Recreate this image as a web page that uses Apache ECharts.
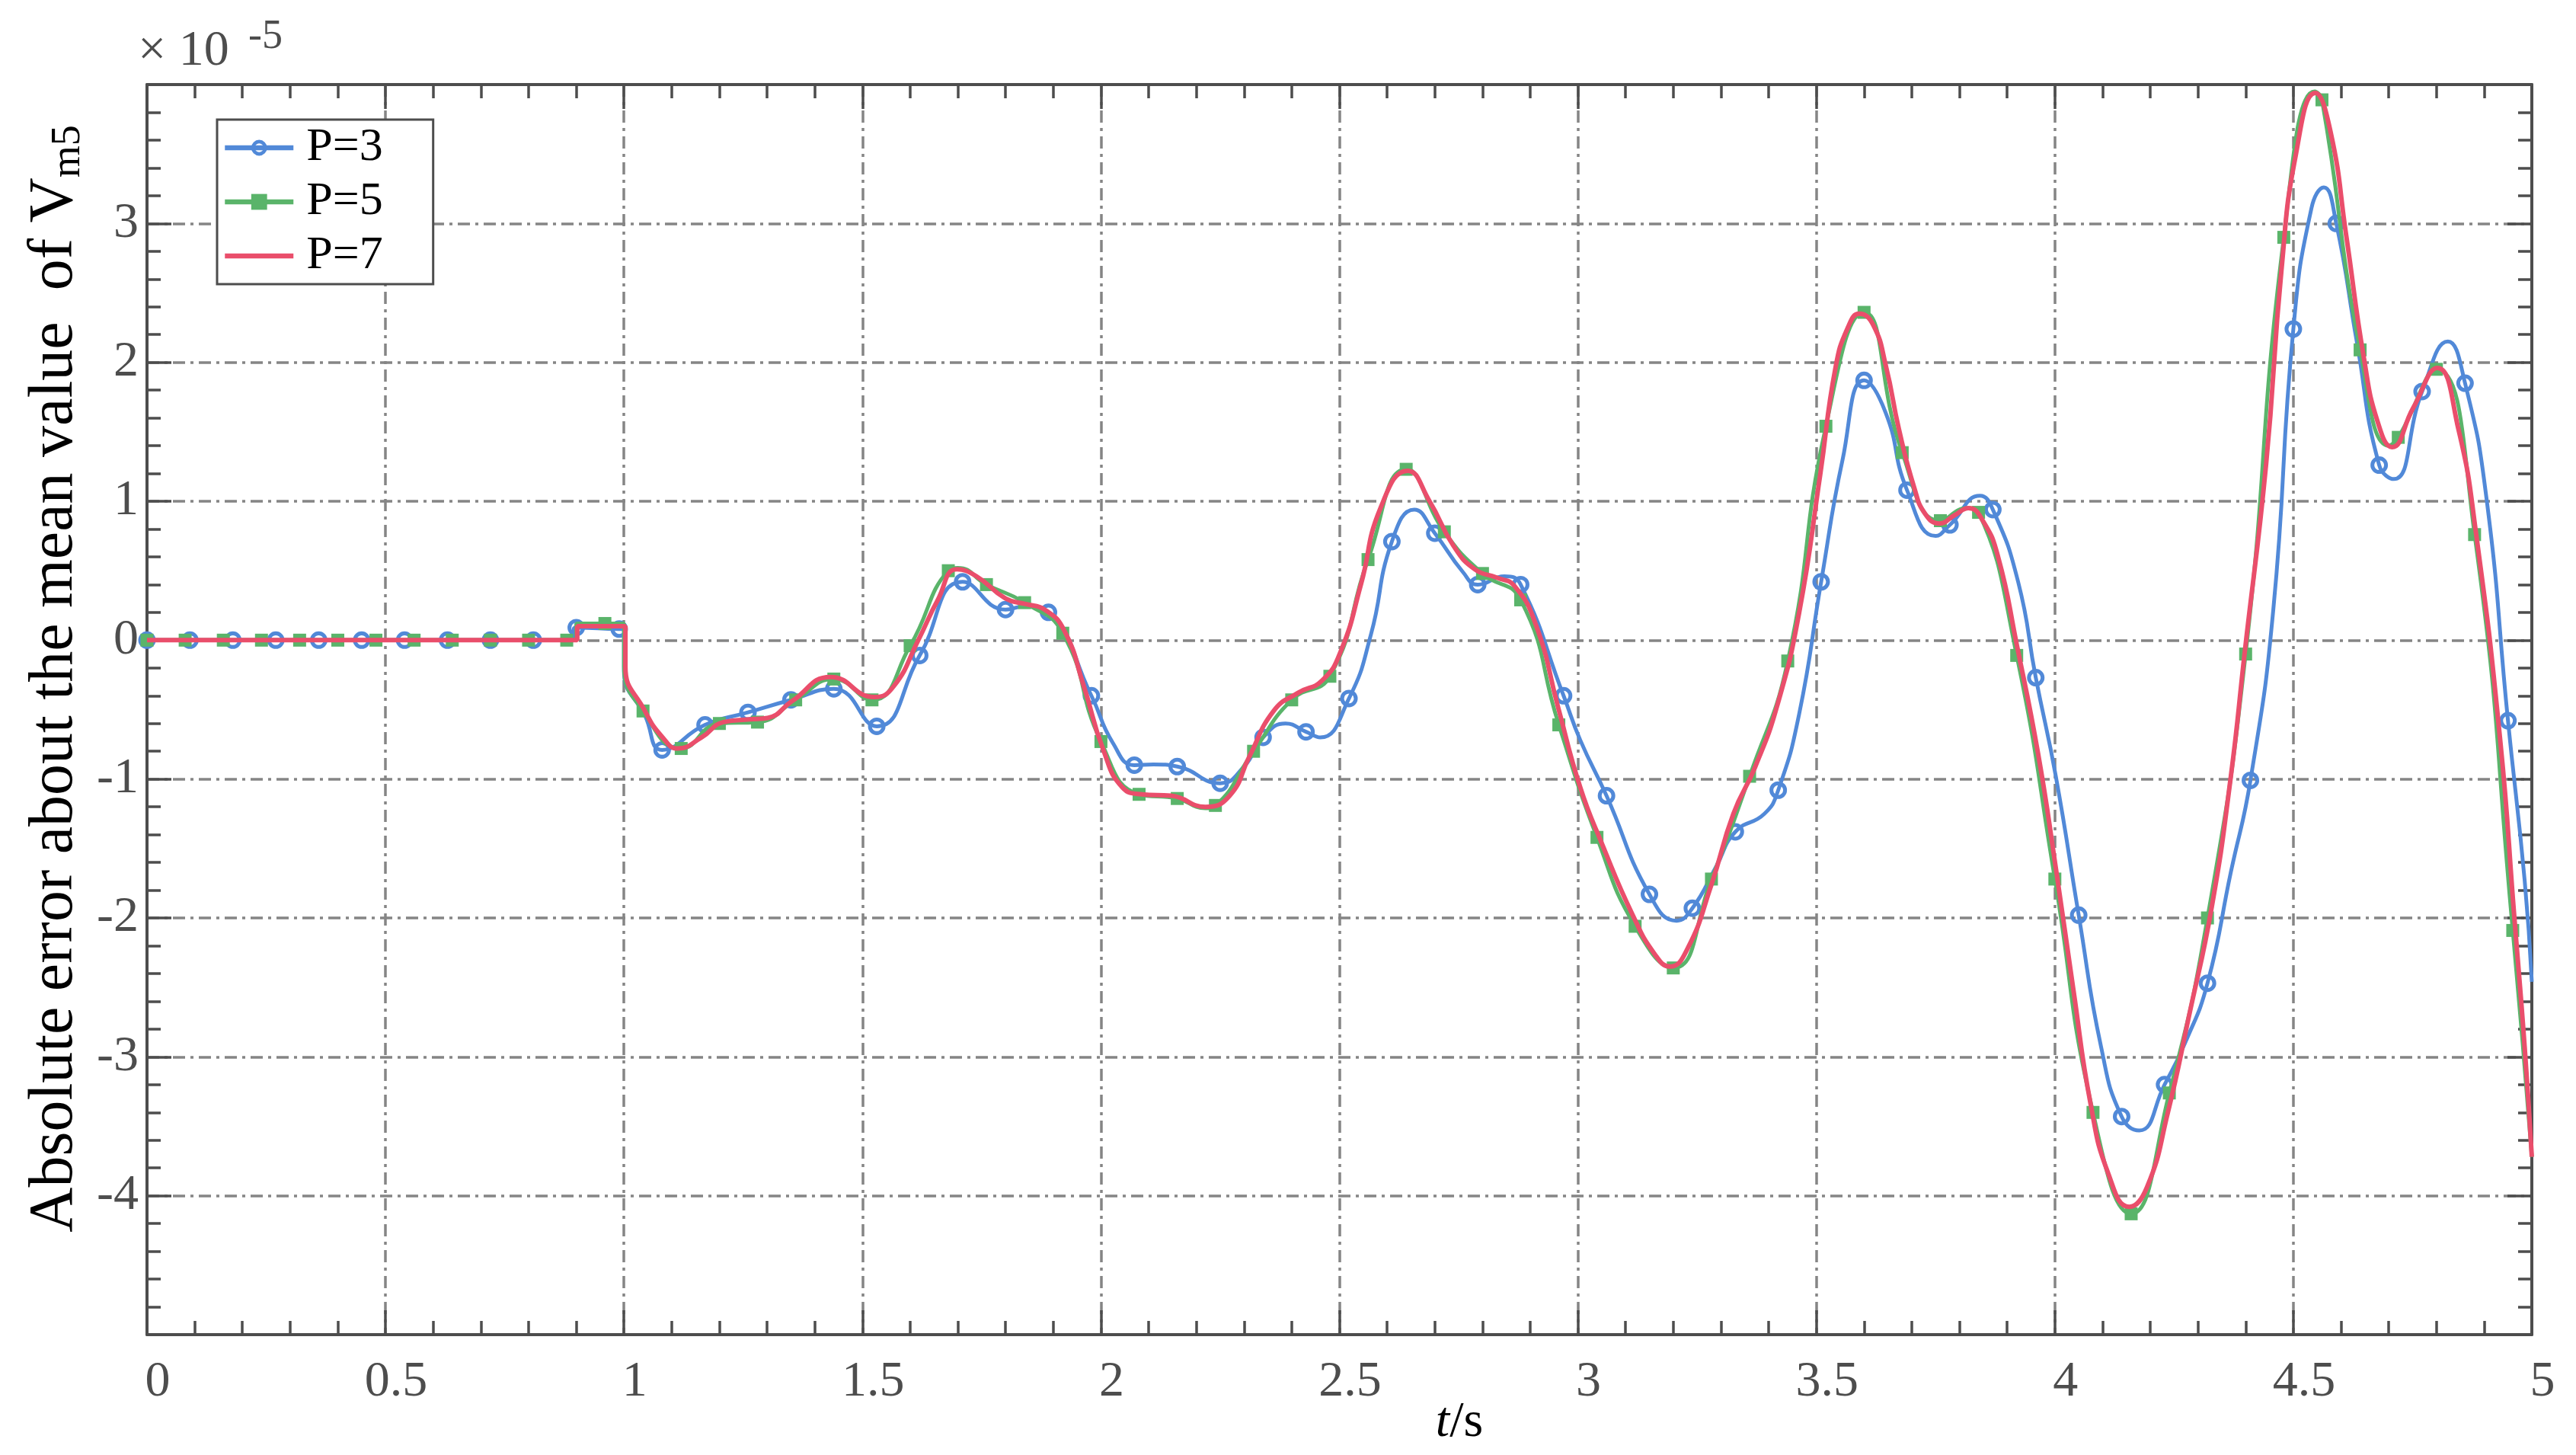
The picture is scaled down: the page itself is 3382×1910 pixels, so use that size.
<!DOCTYPE html>
<html>
<head>
<meta charset="utf-8">
<script src="https://cdn.jsdelivr.net/npm/echarts@6/dist/echarts.min.js"></script>
<style>
html,body{margin:0;padding:0;background:#ffffff;}
#chart{width:3382px;height:1910px;}
</style>
</head>
<body>
<div id="chart"></div>
<script>
// ---------------- DATA (values in units of 1e-5) ----------------
const seriesNames = ['P=3', 'P=5', 'P=7'];

// P=3 : points carrying a circle marker (every 0.09 s)
const p3Marks = [
  [0,0],[0.09,0],[0.18,0],[0.27,0],[0.36,0],[0.45,0],[0.54,0],[0.63,0],[0.72,0],[0.81,0],
  [0.90,0.09],[0.99,0.08],[1.08,-0.79],[1.17,-0.61],[1.26,-0.52],[1.35,-0.43],[1.44,-0.35],
  [1.53,-0.62],[1.62,-0.11],[1.71,0.42],[1.80,0.22],[1.89,0.20],[1.98,-0.40],[2.07,-0.90],
  [2.16,-0.91],[2.25,-1.03],[2.34,-0.70],[2.43,-0.66],[2.52,-0.42],[2.61,0.71],[2.70,0.77],
  [2.79,0.40],[2.88,0.40],[2.97,-0.40],[3.06,-1.12],[3.15,-1.83],[3.24,-1.93],[3.33,-1.38],
  [3.42,-1.08],[3.51,0.42],[3.60,1.87],[3.69,1.08],[3.78,0.83],[3.87,0.94],[3.96,-0.27],
  [4.05,-1.98],[4.14,-3.43],[4.23,-3.20],[4.32,-2.47],[4.41,-1.01],[4.50,2.24],[4.59,3.00],
  [4.68,1.26],[4.77,1.79],[4.86,1.85],[4.95,-0.58]
];
// P=3 : extra curve points (no marker)
const p3Knots = [
  [0.895,0],[0.895,0.09],[1.0,0.08],[1.0,-0.22],[1.045,-0.55],[1.84,0.245],[2.025,-0.74],
  [2.11,-0.895],[2.30,-0.91],[2.387,-0.60],[2.46,-0.70],[2.566,0.04],[2.657,0.94],[2.759,0.49],
  [2.846,0.46],[3.005,-0.72],[3.207,-2.02],[3.29,-1.63],[3.391,-1.25],[3.464,-0.53],[3.555,1.30],
  [3.645,1.64],[3.75,0.75],[3.843,1.04],[3.923,0.42],[4.002,-0.98],[4.097,-2.93],[4.177,-3.53],
  [4.273,-2.90],[4.369,-1.67],[4.458,0.22],[4.538,3.11],[4.564,3.26],[4.633,2.15],[4.711,1.16],
  [4.824,2.15],[4.905,1.02],[4.985,-1.73],[5.0,-2.46]
];

// P=5 : points carrying a square marker (every 0.08 s)
const p5Marks = [
  [0,0],[0.08,0],[0.16,0],[0.24,0],[0.32,0],[0.40,0],[0.48,0],[0.56,0],[0.64,0],[0.72,0],[0.80,0],[0.88,0],
  [0.96,0.12],[1.04,-0.51],[1.12,-0.78],[1.20,-0.60],[1.28,-0.59],[1.36,-0.43],[1.44,-0.28],[1.52,-0.43],
  [1.60,-0.04],[1.68,0.50],[1.76,0.40],[1.84,0.27],[1.92,0.05],[2.00,-0.73],[2.08,-1.11],[2.16,-1.14],
  [2.24,-1.19],[2.32,-0.80],[2.40,-0.43],[2.48,-0.26],[2.56,0.58],[2.64,1.23],[2.72,0.78],[2.80,0.48],
  [2.88,0.29],[2.96,-0.61],[3.04,-1.42],[3.12,-2.06],[3.20,-2.36],[3.28,-1.72],[3.36,-0.98],[3.44,-0.15],
  [3.52,1.54],[3.60,2.36],[3.68,1.35],[3.76,0.86],[3.84,0.92],[3.92,-0.11],[4.00,-1.72],[4.08,-3.40],
  [4.16,-4.13],[4.24,-3.26],[4.32,-2.00],[4.40,-0.10],[4.48,2.90],[4.56,3.89],[4.64,2.09],[4.72,1.46],
  [4.80,1.95],[4.88,0.76],[4.96,-2.09]
];
const p5Knots = [
  [0.90,0],[0.90,0.12],[1.0,0.12],[1.0,-0.19],[1.70,0.52],[2.219,-1.21],[3.815,0.95],
  [4.545,3.95],[4.70,1.40],[5.0,-3.72]
];

// P=7 : curve points (no markers)
const p7Knots = [
  [0,0],[0.902,0],[0.902,0.10],[1.003,0.10],[1.003,-0.19],[1.044,-0.51],[1.081,-0.70],[1.113,-0.78],
  [1.163,-0.70],[1.209,-0.59],[1.264,-0.57],[1.301,-0.56],[1.352,-0.44],[1.433,-0.265],[1.525,-0.41],
  [1.566,-0.33],[1.617,0.0],[1.658,0.29],[1.698,0.51],[1.739,0.46],[1.80,0.30],[1.842,0.26],[1.882,0.22],
  [1.923,0.07],[1.964,-0.33],[2.005,-0.79],[2.045,-1.06],[2.086,-1.11],[2.147,-1.12],[2.219,-1.20],
  [2.27,-1.12],[2.311,-0.84],[2.362,-0.51],[2.413,-0.38],[2.464,-0.29],[2.504,-0.07],[2.545,0.40],
  [2.586,0.95],[2.643,1.22],[2.689,1.0],[2.739,0.68],[2.784,0.51],[2.830,0.45],[2.867,0.39],[2.913,0.10],
  [2.959,-0.49],[3.005,-1.06],[3.051,-1.47],[3.115,-1.98],[3.161,-2.26],[3.193,-2.35],[3.230,-2.22],
  [3.280,-1.76],[3.326,-1.25],[3.372,-0.91],[3.418,-0.47],[3.464,0.20],[3.508,1.19],[3.540,1.96],
  [3.566,2.25],[3.590,2.35],[3.619,2.27],[3.646,1.97],[3.673,1.52],[3.705,1.10],[3.728,0.91],[3.758,0.84],
  [3.790,0.90],[3.819,0.95],[3.849,0.86],[3.881,0.60],[3.920,-0.03],[3.965,-0.82],[4.002,-1.64],
  [4.039,-2.52],[4.075,-3.34],[4.112,-3.84],[4.156,-4.08],[4.193,-3.94],[4.237,-3.40],[4.281,-2.71],
  [4.329,-1.92],[4.369,-0.98],[4.398,-0.09],[4.443,1.27],[4.475,2.66],[4.505,3.49],[4.546,3.94],
  [4.578,3.66],[4.611,2.91],[4.648,2.03],[4.677,1.57],[4.707,1.39],[4.751,1.67],[4.802,1.96],[4.846,1.52],
  [4.883,0.77],[4.934,-0.73],[4.963,-1.98],[4.985,-2.93],[5.0,-3.72]
];

// axis settings (values)
const xMin = 0, xMax = 5, xStep = 0.5;
const yMin = -5, yMax = 4, yStep = 1;

// ---------------- BUILD ----------------
function build(marks, knots) {
  const items = marks.map(p => ({p: p, m: true})).concat(knots.map(p => ({p: p, m: false})));
  items.sort((a, b) => a.p[0] - b.p[0]);
  return items.map(it => it.m ? {value: it.p} : {value: it.p, symbol: 'none'});
}

const FONT = '"Liberation Serif", "Times New Roman", serif';
const AX = '#4d4d4d';
const ringPath = 'path://M0,-10A10,10,0,1,1,0,10A10,10,0,1,1,0,-10ZM0,-5.6A5.6,5.6,0,1,0,0,5.6A5.6,5.6,0,1,0,0,-5.6Z';

function axisBase(extra) {
  return Object.assign({
    type: 'value',
    axisLine: {show: true, onZero: false, lineStyle: {color: AX, width: 4}},
    axisTick: {show: true, inside: true, length: 32, lineStyle: {color: AX, width: 3.5}},
    minorTick: {show: true, splitNumber: 5, length: 18, lineStyle: {color: AX, width: 3.5}},
    splitLine: {show: false},
    axisLabel: {show: false},
    axisPointer: {show: false}
  }, extra);
}

const gridLine = {show: true, lineStyle: {color: '#858585', width: 3.5, type: [16, 7, 4, 7]}};

const chart = echarts.init(document.getElementById('chart'), null, {renderer: 'canvas'});

const option = {
  animation: false,
  backgroundColor: '#ffffff',
  grid: {left: 193, right: 58, top: 111, bottom: 158, containLabel: false},
  xAxis: [
    axisBase({
      min: xMin, max: xMax, interval: xStep, position: 'bottom',
      splitLine: gridLine,
      axisLabel: {show: true, color: AX, fontFamily: FONT, fontSize: 66, margin: 30, padding: [0, 0, 0, 28]}
    }),
    axisBase({min: xMin, max: xMax, interval: xStep, position: 'top'})
  ],
  yAxis: [
    axisBase({
      min: yMin, max: yMax, interval: yStep, position: 'left',
      splitLine: gridLine,
      axisLabel: {show: true, color: AX, fontFamily: FONT, fontSize: 66, margin: 11,
        padding: [10, 0, 0, 0], showMinLabel: false, showMaxLabel: false}
    }),
    axisBase({min: yMin, max: yMax, interval: yStep, position: 'right'})
  ],
  legend: {
    show: true, orient: 'vertical', left: 285, top: 157,
    itemWidth: 90, itemHeight: 26, itemGap: 9,
    padding: [6, 66, 6, 7],
    borderColor: AX, borderWidth: 3, borderRadius: 0, backgroundColor: '#ffffff',
    textStyle: {fontFamily: FONT, fontSize: 62, color: '#000000', padding: [0, 0, 0, 12]},
    lineStyle: {width: 6.5},
    data: [
      {name: seriesNames[0], lineStyle: {width: 6.5}},
      {name: seriesNames[1], lineStyle: {width: 6.5}},
      {name: seriesNames[2], lineStyle: {width: 6.5}, itemStyle: {opacity: 0}}
    ]
  },
  series: [
    {
      type: 'line', name: seriesNames[0], data: build(p3Marks, p3Knots),
      smooth: 0.5, symbol: ringPath, symbolSize: 23, showAllSymbol: true,
      lineStyle: {color: '#5189d8', width: 5}, itemStyle: {color: '#5189d8'}, z: 3
    },
    {
      type: 'line', name: seriesNames[1], data: build(p5Marks, p5Knots),
      smooth: 0.5, symbol: 'rect', symbolSize: 17, showAllSymbol: true,
      lineStyle: {color: '#5ab46a', width: 5}, itemStyle: {color: '#5ab46a'}, z: 4
    },
    {
      type: 'line', name: seriesNames[2], data: build([], p7Knots),
      smooth: 0.5, symbol: 'none', showSymbol: false,
      lineStyle: {color: '#ea4e6b', width: 6}, itemStyle: {color: '#ea4e6b'}, z: 5
    }
  ],
  graphic: [
    {type: 'text', x: 181, y: 68, silent: true,
      style: {text: '× 10', fill: AX, font: '66px ' + FONT, align: 'left', verticalAlign: 'middle'}},
    {type: 'text', x: 326, y: 49, silent: true,
      style: {text: '-5', fill: AX, font: '54px ' + FONT, align: 'left', verticalAlign: 'middle'}},
    {type: 'text', x: 72, y: 891, rotation: Math.PI / 2, silent: true,
      style: {
        text: '{a|Absolute error about the mean value  of V}{b|m5}',
        align: 'center', verticalAlign: 'middle',
        rich: {
          a: {fontFamily: FONT, fontSize: 82, fill: '#000000', lineHeight: 90, verticalAlign: 'middle'},
          b: {fontFamily: FONT, fontSize: 54, fill: '#000000', lineHeight: 74, verticalAlign: 'bottom'}
        }
      }},
    {type: 'text', x: 1916, y: 1868, silent: true,
      style: {
        text: '{i|t}{n|/s}', align: 'center', verticalAlign: 'middle',
        rich: {
          i: {fontFamily: FONT, fontSize: 66, fontStyle: 'italic', fill: '#000000'},
          n: {fontFamily: FONT, fontSize: 66, fill: '#000000'}
        }
      }}
  ]
};
chart.setOption(option);
</script>
</body>
</html>
